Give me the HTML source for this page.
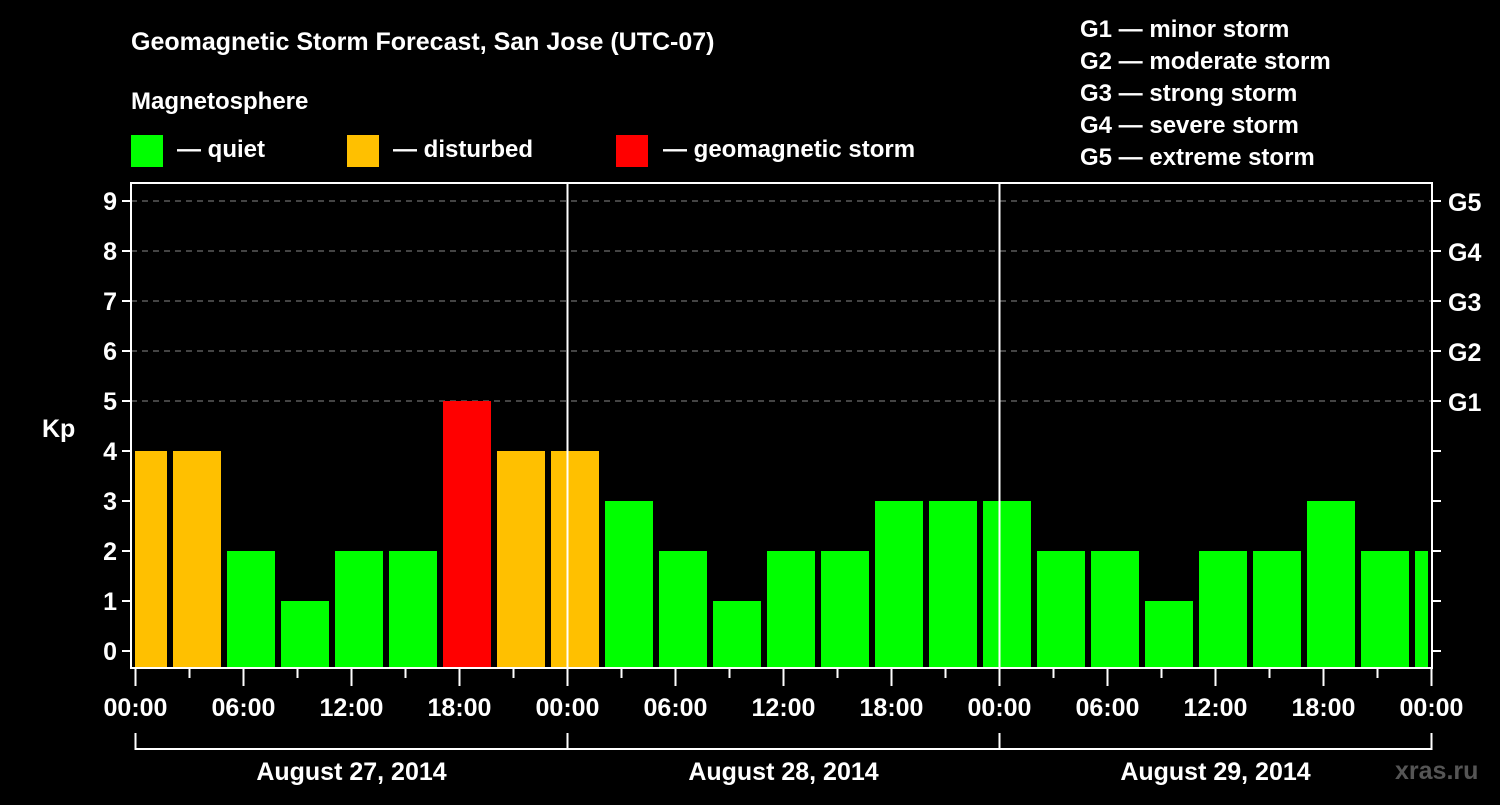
<!DOCTYPE html>
<html><head><meta charset="utf-8"><style>
body{margin:0;background:#000;width:1500px;height:800px;overflow:hidden}
svg text{font-family:"Liberation Sans",sans-serif;font-weight:bold;fill:#fff}
</style></head><body>
<svg id="c" width="1500" height="800">
<text x="131" y="50" font-size="25">Geomagnetic Storm Forecast, San Jose (UTC-07)</text>
<text x="131" y="109" font-size="24">Magnetosphere</text>
<rect x="131" y="135" width="32" height="32" fill="#00ff00"/>
<text x="177" y="157" font-size="24">— quiet</text>
<rect x="347" y="135" width="32" height="32" fill="#ffc000"/>
<text x="393" y="157" font-size="24">— disturbed</text>
<rect x="616" y="135" width="32" height="32" fill="#ff0000"/>
<text x="663" y="157" font-size="24">— geomagnetic storm</text>
<g font-size="24">
<text x="1080" y="37">G1 — minor storm</text>
<text x="1080" y="69">G2 — moderate storm</text>
<text x="1080" y="101">G3 — strong storm</text>
<text x="1080" y="133">G4 — severe storm</text>
<text x="1080" y="165">G5 — extreme storm</text>
</g>
<text x="42" y="437" font-size="25">Kp</text>
<text x="1395" y="779" font-size="25" fill="#555" style="fill:#555">xras.ru</text>
<g id="plot"></g>
</svg>
<script>
const kpStartHours=[-1,2,5,8,11,14,17,20,23,26,29,32,35,38,41,44,47,50,53,56,59,62,65,68,71];
const kpValues=[4,4,2,1,2,2,5,4,4,3,2,1,2,2,3,3,3,2,2,1,2,2,3,2,2];
const yTicks=[0,1,2,3,4,5,6,7,8,9];
const gLabels=["G1","G2","G3","G4","G5"];
const gLevels=[5,6,7,8,9];
const xTickLabels=["00:00","06:00","12:00","18:00","00:00","06:00","12:00","18:00","00:00","06:00","12:00","18:00","00:00"];
const dayLabels=["August 27, 2014","August 28, 2014","August 29, 2014"];
const NS="http://www.w3.org/2000/svg";
const L=131,R=1432,T=183,B=668;
const xs=h=>135.5+h*18;
const ys=v=>651-v*50;
const g=document.getElementById('plot');
function mk(t,a){const e=document.createElementNS(NS,t);for(const k in a)e.setAttribute(k,a[k]);g.appendChild(e);return e;}
// clip
const defs=mk('defs',{});
const cp=document.createElementNS(NS,'clipPath');cp.setAttribute('id','pc');
const cr=document.createElementNS(NS,'rect');cr.setAttribute('x',135);cr.setAttribute('y',T);cr.setAttribute('width',1428-135);cr.setAttribute('height',B-T);
cp.appendChild(cr);defs.appendChild(cp);
// grid
yTicks.forEach(v=>{
  if(v>=5){const l=mk('line',{x1:L,x2:R,y1:ys(v),y2:ys(v),stroke:'#888','stroke-dasharray':'6,5','stroke-width':1});
  
  }
  const t=mk('line',{x1:L-9,x2:L,y1:ys(v),y2:ys(v),stroke:'#fff','stroke-width':2});
  
  
  const t2=mk('line',{x1:R,x2:R+9,y1:ys(v),y2:ys(v),stroke:'#fff','stroke-width':2});
  
  
  const tx=mk('text',{x:L-14,y:ys(v)+9,'font-size':25,'text-anchor':'end'});tx.textContent=v;
  
  
});
gLabels.forEach((s,i)=>{const tx=mk('text',{x:R+16,y:ys(gLevels[i])+10,'font-size':25});tx.textContent=s;
  
  });
// bars
kpValues.forEach((v,i)=>{
  const c=v>=5?'#ff0000':(v>=4?'#ffc000':'#00ff00');
  const x=xs(kpStartHours[i])+1.5;
  const r=mk('rect',{x:x,y:ys(v),width:48,height:667-ys(v),fill:c,'clip-path':'url(#pc)'});
  
  
});
// day separators
[24,48].forEach(h=>{const l=mk('line',{x1:xs(h),x2:xs(h),y1:T,y2:B,stroke:'#fff','stroke-width':2});
  
  });
// frame
const f=mk('rect',{x:L,y:T,width:R-L,height:B-T,fill:'none',stroke:'#fff','stroke-width':2});


// x ticks
for(let h=0;h<=72;h+=3){
  const major=h%6===0;
  const l=mk('line',{x1:xs(h),x2:xs(h),y1:B,y2:major?686:678,stroke:'#fff','stroke-width':2});
  
  
}
xTickLabels.forEach((s,i)=>{const tx=mk('text',{x:xs(i*6),y:716,'font-size':25,'text-anchor':'middle'});tx.textContent=s;
  
  });
const br=mk('line',{x1:xs(0),x2:xs(72),y1:749,y2:749,stroke:'#fff','stroke-width':2});


[0,24,48,72].forEach(h=>{const l=mk('line',{x1:xs(h),x2:xs(h),y1:733,y2:750,stroke:'#fff','stroke-width':2});
  
  });
dayLabels.forEach((s,i)=>{const tx=mk('text',{x:xs(i*24+12),y:780,'font-size':25,'text-anchor':'middle'});tx.textContent=s;
  
  });
</script>
</body></html>
